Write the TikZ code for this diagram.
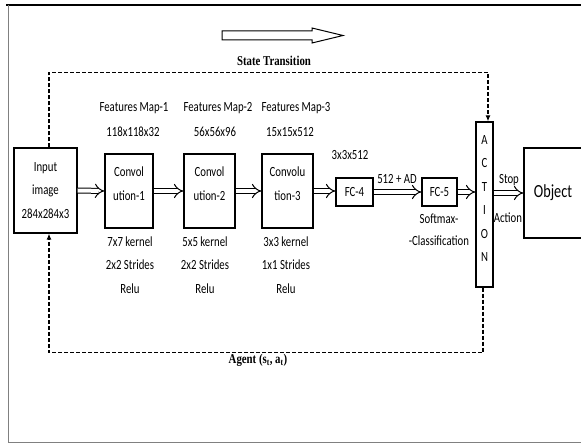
\documentclass[tikz,border=0pt]{standalone}
\usepackage{fontspec}
\setmainfont{Carlito}
\newfontfamily\narrowfont{Carlito}[FakeStretch=0.77]
\newfontfamily\capfont{Liberation Serif}[FakeStretch=0.8]
\usetikzlibrary{arrows.meta,positioning,calc}

\begin{document}
\begin{tikzpicture}[x=1pt, y=-1pt,
    box/.style={draw=black, line width=1.2pt, fill=white, inner sep=0pt},
    txt/.style={font=\narrowfont\fontsize{14}{23.5}\selectfont, align=center, inner sep=0pt},
    flow/.style={double, double distance=4pt, line width=1pt, -{Implies}},
    feedback/.style={dash pattern=on 4pt off 2pt, line width=1.2pt, -{Latex[length=6pt,width=5pt]}},
    caption/.style={font=\capfont\bfseries\fontsize{13.5}{15}\selectfont, inner sep=0pt}
]
\useasboundingbox (0,0) rectangle (581,443);

% frame
\draw[line width=2pt] (6,5) -- (581,5);
\draw[gray, line width=1pt] (8,5) -- (8,442) -- (581,442);

% input and convolution layers
\node[box, txt, minimum width=63pt, minimum height=85pt] (input) at (45.5,190.5) {Input\\image\\284x284x3};

\node[box, minimum width=48pt, minimum height=74pt] (conv1) at (129,191) {};
\node[txt] (conv1t) at (129,183.5) {Convol\\ution-1};
\node[box, minimum width=51pt, minimum height=74pt] (conv2) at (209.5,191) {};
\node[txt] (conv2t) at (209.5,183.5) {Convol\\ution-2};
\node[box, minimum width=51pt, minimum height=74pt] (conv3) at (287.5,191) {};
\node[txt] (conv3t) at (287.5,183.5) {Convolu\\tion-3};

% feature maps
\node[txt] (fm1) at (134,108) {Features Map-1};
\node[txt] (fm2) at (218,108) {Features Map-2};
\node[txt] (fm3) at (296,108) {Features Map-3};
\node[txt] (sz1) at (133,132) {118x118x32};
\node[txt] (sz2) at (215,132) {56x56x96};
\node[txt] (sz3) at (290,132) {15x15x512};

% kernels
\node[txt] (k1) at (130,265) {7x7 kernel\\2x2 Strides\\Relu};
\node[txt] (k2) at (205,265) {5x5 kernel\\2x2 Strides\\Relu};
\node[txt] (k3) at (286,265) {3x3 kernel\\1x1 Strides\\Relu};

% fully connected
\node[box, txt, minimum width=37pt, minimum height=28pt] (fc4) at (354.5,192) {FC-4};
\node[box, txt, minimum width=35pt, minimum height=28pt] (fc5) at (439.5,192) {FC-5};
\node[txt] (fc4s) at (350,155) {3x3x512};
\node[txt] (ad) at (397,179) {512 + AD};
\node[txt, font=\narrowfont\fontsize{14}{22}\selectfont] (soft) at (439,230) {Softmax-\\-Classification};

% action and object
\node[box, minimum width=17pt, minimum height=165pt] (action) at (484.5,204.5) {};
\node[txt, font=\narrowfont\fontsize{14}{23.4}\selectfont] (actiont) at (484.5,198.5) {A\\C\\T\\I\\O\\N};
\node[box, minimum width=80pt, minimum height=90pt] (object) at (564,193) {};
\node[font=\narrowfont\fontsize{18.5}{20}\selectfont, inner sep=0pt] (objectt) at (553,193) {Object};
\node[txt] (stop) at (509,180) {Stop};
\node[txt] (stopa) at (508,218) {Action};

% arrows
\draw[flow] (input.east) -- (conv1.west);
\draw[flow] (conv1) -- (conv2);
\draw[flow] (conv2) -- (conv3);
\draw[flow] (conv3.east) -- (conv3.east -| fc4.west);
\draw[flow] (fc4) -- (fc5);
\draw[flow] (fc5.east) -- (fc5.east -| action.west);
\draw[flow] (action.east |- object.west) -- (object.west);

% state transition loop
\draw[line width=1pt, fill=white] (222,31) -- (312,31) -- (312,28) -- (343,35.5)
    -- (312,43) -- (312,40) -- (222,40) -- cycle;
\node[caption] (state) at (274,61) {State Transition};
\draw[feedback] ([xshift=3.5pt]input.north) -- ++(0,-75) -| ([xshift=3.5pt]action.north);
\draw[feedback] ([xshift=-1.5pt]action.south) -- ++(0,65) -| ([xshift=3.5pt]input.south);
\node[caption] (agent) at (258,360) {Agent (s\textsubscript{t}, a\textsubscript{t})};

\end{tikzpicture}
\end{document}
